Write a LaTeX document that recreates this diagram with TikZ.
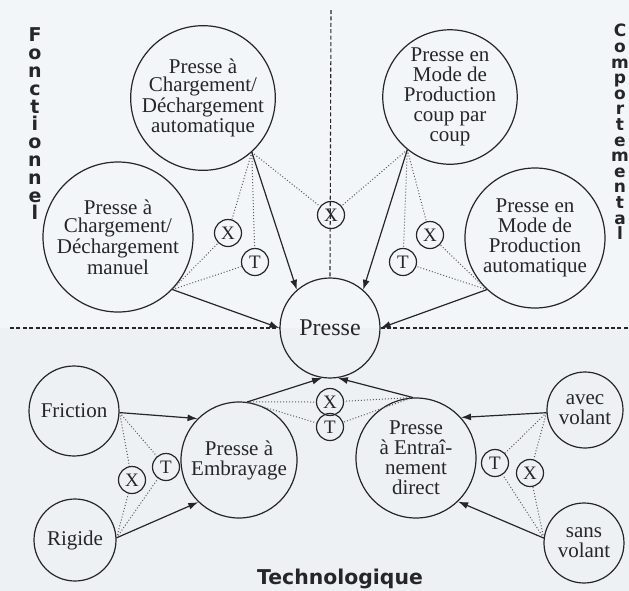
\documentclass[tikz,border=0pt]{standalone}
\usepackage{fontspec}
\setmainfont{Liberation Serif}
\newfontfamily\sidefont{DejaVu Sans}
\usetikzlibrary{arrows.meta}

\definecolor{paper}{RGB}{243,246,248}
\definecolor{paperlow}{RGB}{237,241,244}
\definecolor{ink}{RGB}{38,38,40}

\begin{document}
\begin{tikzpicture}[
    x=0.5pt, y=-0.5pt,
    every node/.style={text=ink},
    concept/.style={
      draw=ink, circle, inner sep=0pt, align=center, line width=0.6pt,
      font=\fontsize{10.5}{10}\selectfont
    },
    tight/.style={font=\fontsize{10.5}{9}\selectfont},
    op/.style={
      draw=ink, circle, minimum size=13.5pt, inner sep=0pt, line width=0.6pt,
      font=\fontsize{9.5}{9.5}\selectfont
    },
    arrow/.style={-{Latex[length=5pt, width=3.5pt]}, draw=ink, line width=0.6pt},
    link/.style={densely dotted, draw=ink!75, line width=0.5pt},
    axis/.style={dash pattern=on 2pt off 1.2pt, draw=ink, line width=0.55pt},
    side/.style={font=\sidefont\bfseries\fontsize{9.5}{8.9}\selectfont, align=center, inner sep=0pt}
]

% Background
\useasboundingbox (0,0) rectangle (629,591);
\fill[paper] (0,0) rectangle (629,328);
\fill[paperlow] (0,328) rectangle (629,591);

% Centre
\node[concept, minimum size=50pt, font=\fontsize{12}{12}\selectfont] (presse) at (330,328) {Presse};

% Fonctionnel
\node[concept, tight, minimum size=72pt] (autoCD) at (203,98) {Presse à\\Chargement/\\Déchargement\\automatique};
\node[concept, tight, minimum size=75pt] (manuCD) at (118,237) {Presse à\\Chargement/\\Déchargement\\manuel};

% Comportemental
\node[concept, minimum size=67pt] (coup) at (450,97) {Presse en\\Mode de\\Production\\coup par\\coup};
\node[concept, minimum size=70pt] (prodAuto) at (535,238) {Presse en\\Mode de\\Production\\automatique};

% Technologique
\node[concept, minimum size=58pt] (embray) at (239,460) {Presse à\\Embrayage};
\node[concept, minimum size=60pt] (entrain) at (416,458) {Presse\\à Entraî-\\nement\\direct};
\node[concept, minimum size=45pt] (friction) at (74,411) {Friction};
\node[concept, minimum size=41pt] (rigide) at (75,540) {Rigide};
\node[concept, minimum size=38pt] (avec) at (585,410) {avec\\volant};
\node[concept, minimum size=40pt] (sans) at (584,543) {sans\\volant};

% X / T operators
\node[op] (x1) at (228,233) {X};
\node[op] (t1) at (255,262) {T};
\node[op] (xc) at (331,215) {X};
\node[op] (x2) at (430,235) {X};
\node[op] (t2) at (403,262) {T};
\node[op] (x3) at (330,402) {X};
\node[op] (t3) at (330,427) {T};
\node[op] (x4) at (132,480) {X};
\node[op] (t4) at (166,467) {T};
\node[op] (t5) at (495,463) {T};
\node[op] (x5) at (530,473) {X};

% Axis labels
\node[side] (fonc) at (35,124) {F\\o\\n\\c\\t\\i\\o\\n\\n\\e\\l};
\node[side, font=\sidefont\bfseries\fontsize{8.5}{7.8}\selectfont] (comp) at (620,132) {C\\o\\m\\p\\o\\r\\t\\e\\m\\e\\n\\t\\a\\l};
\node[font=\sidefont\bfseries\fontsize{10.2}{12}\selectfont] (techno) at (340,579) {Technologique};

% Dashed axes
\coordinate (top) at (331,10);
\coordinate (left) at (10,328);
\coordinate (right) at (629,328);
\draw[axis] (top) -- (presse.north);
\draw[axis] (left) -- (presse.west);
\draw[axis] (presse.east) -- (right);

% Dotted links
\draw[link] (autoCD.-48) -- (x1);
\draw[link] (autoCD.-48) -- (t1);
\draw[link] (manuCD.-44) -- (x1);
\draw[link] (manuCD.-44) -- (t1);
\draw[link] (autoCD.-48) -- (xc);
\draw[link] (coup.231) -- (xc);
\draw[link] (coup.231) -- (x2);
\draw[link] (coup.231) -- (t2);
\draw[link] (prodAuto.227) -- (x2);
\draw[link] (prodAuto.227) -- (t2);
\draw[link] (embray.82) -- (x3);
\draw[link] (embray.82) -- (t3);
\draw[link] (entrain.93) -- (x3);
\draw[link] (entrain.93) -- (t3);
\draw[link] (friction.-2) -- (x4);
\draw[link] (friction.-2) -- (t4);
\draw[link] (rigide.3) -- (x4);
\draw[link] (rigide.3) -- (t4);
\draw[link] (avec.184) -- (t5);
\draw[link] (avec.184) -- (x5);
\draw[link] (sans.173) -- (t5);
\draw[link] (sans.173) -- (x5);

% Arrows
\draw[arrow] (autoCD.-48) -- (presse.131);
\draw[arrow] (manuCD.-44) -- (presse.west);
\draw[arrow] (coup.231) -- (presse.49);
\draw[arrow] (prodAuto.227) -- (presse.east);
\draw[arrow] (embray.82) -- (presse.-99);
\draw[arrow] (entrain.93) -- (presse.-81);
\draw[arrow] (friction.-2) -- (embray.135);
\draw[arrow] (rigide.3) -- (embray.226);
\draw[arrow] (avec.184) -- (entrain.42);
\draw[arrow] (sans.173) -- (entrain.-46);

\end{tikzpicture}
\end{document}
